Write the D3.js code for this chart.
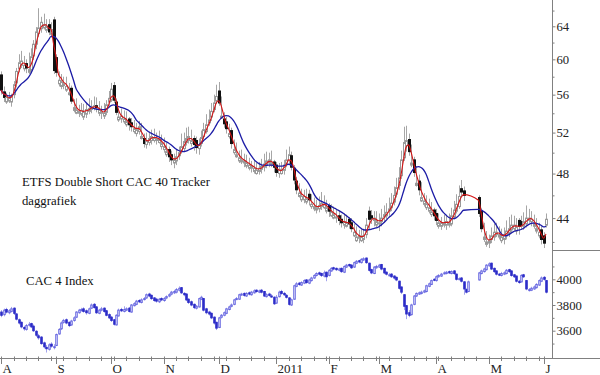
<!DOCTYPE html>
<html>
<head>
<meta charset="utf-8">
<script src="https://cdn.jsdelivr.net/npm/d3@7"></script>
<style>
  body { margin: 0; background: #fff; }
</style>
</head>
<body>
<svg id="chart" width="600" height="375"></svg>
<script>
// init data (daily candles, 2 Aug 2010 - 2 Jun 2011, null = no quote)
const etfOpen = [58.2, 56.3, 55.2, 55.3, 55.2, 56.0, 57.3, 58.9, 59.3, 58.9,
  59.5, 58.5, 58.8, 60.4, 61.8, 63.1, 63.7, 63.8, 63.5, 64.2,
  63.0, 64.8, 60.2, 57.2, 56.9, 57.0, 56.5, 56.0, 56.7, 54.3,
  54.0, 54.0, 53.9, 53.6, 53.9, 54.2, 54.4, 54.5, 54.8, 54.0,
  54.0, 53.7, 54.1, 55.2, 55.4, 57.0, 55.2, 53.3, 53.4, 53.1,
  52.8, 53.4, 53.0, 52.1, 51.9, 52.1, 51.4, 51.4, 50.8, 51.0,
  51.2, 51.2, 51.2, 51.0, 50.6, 50.3, 49.8, 50.3, 49.8, 49.0,
  49.2, 49.7, 50.2, 50.4, 51.0, 51.2, 50.9, 51.4, 51.2, 50.4,
  50.9, 51.6, 52.1, 53.0, 53.6, 54.4, 55.3, 56.4, 53.5, 53.4,
  53.1, 51.6, 52.2, 50.0, 49.6, 49.2, 49.1, 49.0, 48.7, 48.5,
  48.5, 48.2, 48.0, 48.2, 48.4, 48.6, 48.8, 49.0, 48.8, 49.1,
  48.8, 48.0, 48.0, 48.3, 48.9, 49.2, 49.7, 48.5, 47.3, 45.9,
  45.6, 45.6, 45.4, 46.1, 45.0, 44.8, 44.7, 44.8, 45.0, 44.9,
  44.6, 45.1, 44.2, 44.0, 44.0, 44.2, 43.9, 43.4, 43.3, 43.9,
  43.6, 42.5, 42.1, 42.3, 42.1, 42.2, 42.6, 44.6, 44.2, 43.8,
  43.4, 43.5, 43.7, 44.1, 44.2, 44.6, 44.9, 45.4, 46.1, 46.9,
  47.8, 49.5, 50.7, 51.3, 48.8, 49.3, 46.9, 47.3, 45.5, 45.2,
  44.9, 44.6, 44.3, 44.7, 44.4, 43.3, 43.3, 43.4, 43.4, 43.4,
  43.5, 44.1, 44.6, 45.0, 46.6, 46.4, null, null, null, null,
  null, 45.8, 44.6, 42.2, 41.8, 41.9, 42.2, 42.4, 42.6, 42.4,
  42.1, 42.2, 42.5, 42.7, 43.0, 43.1, 42.9, 43.8, 43.7, 43.3,
  43.5, 43.8, 43.7, 43.3, 42.9, 42.5, 43.0, 42.5, 43.4];
const etfHigh = [58.6, 56.9, 56.2, 56.3, 56.1, 57.5, 59.0, 60.6, 61.0, 60.4,
  60.0, 60.8, 61.3, 62.3, 63.9, 66.3, 65.2, 65.6, 64.9, 64.9,
  64.5, 65.2, 60.6, 58.6, 58.3, 58.0, 58.0, 57.3, 57.0, 55.5,
  55.6, 54.9, 55.1, 55.0, 55.1, 55.6, 55.4, 55.8, 55.7, 55.3,
  54.8, 55.1, 55.4, 56.4, 57.3, 57.4, 55.6, 54.4, 54.5, 54.3,
  54.2, 53.6, 53.5, 53.3, 53.0, 53.2, 53.0, 51.9, 52.0, 52.1,
  52.3, 52.4, 52.0, 52.2, 51.8, 51.5, 51.0, 50.6, 50.2, 49.9,
  50.3, 50.6, 51.9, 52.0, 52.5, 52.6, 52.3, 51.7, 51.6, 51.4,
  52.2, 53.0, 53.9, 54.4, 55.1, 56.0, 57.1, 57.4, 55.8, 54.1,
  53.6, 52.9, 52.5, 51.3, 51.0, 50.2, 50.3, 49.9, 49.8, 49.5,
  49.2, 49.3, 49.0, 49.1, 49.4, 49.9, 50.1, 50.0, 50.2, 49.3,
  49.1, 49.0, 49.1, 49.3, 50.3, 50.6, 50.1, 48.8, 47.7, 47.1,
  46.6, 46.5, 46.6, 46.5, 46.1, 45.8, 45.6, 45.9, 46.3, 46.0,
  45.6, 45.3, 45.2, 45.0, 44.8, 44.6, 44.3, 44.4, 44.3, 44.1,
  44.0, 43.5, 43.3, 43.0, 43.1, 43.1, 44.0, 45.0, 44.7, 44.6,
  44.6, 44.4, 44.8, 45.1, 45.3, 45.8, 46.2, 46.8, 47.6, 48.6,
  50.2, 52.6, 52.7, 51.9, 50.8, 49.6, 48.7, 47.9, 47.2, 46.2,
  46.0, 45.7, 45.4, 44.9, 44.8, 44.4, 44.1, 44.3, 44.2, 44.4,
  44.9, 45.5, 46.1, 46.9, 47.4, 46.8, null, null, null, null,
  null, 46.0, 44.9, 43.6, 42.9, 42.6, 43.2, 43.5, 43.6, 43.3,
  43.1, 43.2, 43.8, 44.1, 44.3, 44.2, 44.0, 44.0, 44.2, 44.5,
  45.1, 44.8, 44.6, 44.3, 44.0, 43.6, 43.3, 42.8, 44.4];
const etfLow = [56.0, 55.2, 55.0, 55.1, 54.7, 55.6, 56.8, 58.5, 59.0, 58.6,
  58.4, 58.3, 58.4, 59.9, 61.2, 62.7, 63.2, 63.6, 63.2, 62.9,
  62.6, 58.3, 58.0, 56.9, 56.6, 56.6, 56.3, 55.9, 55.0, 54.1,
  53.9, 53.6, 53.7, 53.3, 53.5, 53.9, 54.0, 54.3, 54.1, 53.7,
  53.4, 53.4, 53.8, 54.8, 55.2, 55.1, 53.8, 53.1, 53.0, 52.9,
  52.6, 52.2, 52.1, 51.9, 51.6, 51.8, 51.3, 50.5, 50.4, 50.7,
  50.8, 51.0, 50.8, 50.9, 50.3, 50.0, 49.6, 49.1, 48.8, 48.5,
  48.8, 49.3, 49.9, 50.1, 50.7, 50.9, 50.6, 50.2, 49.9, 49.8,
  50.6, 51.3, 51.9, 52.7, 53.2, 54.1, 55.0, 54.8, 53.4, 52.5,
  51.9, 51.4, 50.4, 49.8, 49.5, 49.0, 48.9, 48.6, 48.5, 48.3,
  48.1, 48.0, 47.9, 47.9, 48.0, 48.2, 48.5, 48.6, 48.6, 48.1,
  47.7, 47.6, 47.9, 47.9, 48.6, 48.9, 48.3, 47.0, 46.1, 45.8,
  45.4, 45.3, 45.2, 45.1, 44.8, 44.6, 44.4, 44.5, 44.7, 44.8,
  44.4, 44.1, 44.1, 43.9, 43.6, 43.4, 43.2, 43.1, 43.2, 43.1,
  42.8, 42.4, 42.0, 41.9, 42.0, 41.9, 42.3, 43.0, 43.5, 43.3,
  43.2, 42.9, 43.3, 43.6, 43.9, 44.2, 44.6, 45.1, 45.8, 46.5,
  47.5, 49.2, 50.1, 49.7, 48.6, 47.7, 46.8, 46.0, 45.4, 45.0,
  44.7, 44.4, 44.1, 43.8, 43.4, 43.1, 43.0, 43.2, 43.0, 43.2,
  43.3, 43.9, 44.4, 44.8, 45.9, 45.5, null, null, null, null,
  null, 44.1, 42.8, 42.0, 41.6, 41.5, 41.9, 42.1, 42.4, 42.2,
  41.9, 41.8, 42.2, 42.4, 42.7, 42.9, 42.6, 42.6, 43.0, 43.0,
  43.2, 43.6, 43.3, 43.1, 42.7, 42.3, 41.8, 41.5, 43.2];
const etfClose = [56.5, 55.7, 55.7, 55.6, 55.8, 57.1, 58.6, 59.6, 59.8, 59.3,
  59.0, 58.8, 60.3, 61.8, 63.3, 63.8, 64.5, 64.2, 63.9, 63.3,
  63.6, 58.7, 58.5, 57.6, 57.4, 57.2, 56.9, 56.2, 55.3, 54.6,
  54.3, 54.2, 54.3, 54.1, 54.4, 54.5, 54.7, 54.8, 54.6, 54.3,
  54.1, 54.0, 54.9, 55.6, 56.6, 55.4, 54.1, 53.6, 53.7, 53.4,
  53.1, 52.8, 52.6, 52.4, 52.3, 52.6, 51.6, 50.9, 51.2, 51.4,
  51.6, 51.5, 51.4, 51.3, 50.9, 50.6, 50.1, 49.6, 49.3, 49.3,
  49.6, 50.0, 50.6, 51.1, 51.4, 51.6, 51.2, 50.8, 50.5, 50.8,
  51.5, 52.3, 52.8, 53.3, 54.2, 55.1, 55.8, 55.1, 53.7, 52.9,
  52.4, 51.9, 50.9, 50.3, 49.8, 49.5, 49.3, 49.2, 49.0, 48.8,
  48.7, 48.5, 48.3, 48.5, 48.7, 48.9, 49.2, 49.3, 49.0, 48.6,
  48.1, 48.4, 48.3, 48.8, 49.3, 49.8, 48.6, 47.4, 46.5, 46.2,
  45.9, 45.9, 45.7, 45.6, 45.2, 45.0, 44.9, 45.1, 45.3, 45.2,
  44.9, 44.6, 44.5, 44.3, 44.1, 43.8, 43.6, 43.7, 43.6, 43.5,
  43.1, 42.8, 42.4, 42.5, 42.4, 42.5, 43.4, 43.9, 44.0, 44.0,
  43.7, 43.6, 44.0, 44.3, 44.5, 44.8, 45.3, 46.0, 46.7, 47.6,
  49.3, 51.0, 51.2, 50.1, 49.0, 48.1, 47.1, 46.5, 45.8, 45.5,
  45.2, 44.9, 44.5, 44.2, 43.8, 43.6, 43.6, 43.6, 43.7, 43.6,
  44.2, 44.7, 45.2, 45.9, 46.3, 46.0, null, null, null, null,
  null, 44.4, 43.1, 42.4, 42.0, 42.1, 42.5, 42.8, 42.8, 42.6,
  42.4, 42.6, 42.9, 43.1, 43.4, 43.4, 43.2, 43.3, 43.4, 43.7,
  44.0, 44.0, 43.9, 43.5, 43.1, 42.8, 42.2, 41.9, 43.9];

const cacOpen = [3745, 3725, 3765, 3740, 3750, 3775, 3730, 3685, 3665, 3625,
  3610, 3645, 3655, 3635, 3595, 3560, 3550, 3505, 3470, 3455,
  3495, 3470, 3485, 3575, 3615, 3665, 3685, 3665, 3645, 3680,
  3705, 3740, 3758, 3770, 3755, 3735, 3775, 3805, 3785, 3735,
  3760, 3775, 3755, 3725, 3705, 3685, 3645, 3715, 3765, 3750,
  3760, 3775, 3745, 3795, 3805, 3835, 3820, 3845, 3855, 3885,
  3875, 3855, 3845, 3825, 3850, 3835, 3855, 3870, 3885, 3895,
  3900, 3915, 3935, 3890, 3885, 3845, 3825, 3805, 3775, 3785,
  3845, 3850, 3770, 3745, 3735, 3705, 3665, 3625, 3705, 3720,
  3735, 3765, 3790, 3805, 3845, 3845, 3880, 3890, 3870, 3895,
  3880, 3895, 3915, 3900, 3915, 3905, 3865, 3885, 3870, 3860,
  3815, 3865, 3905, 3890, 3875, 3855, 3800, 3845, 3945, 3970,
  3955, 3970, 3995, 3970, 3990, 4010, 4030, 4050, 4045, 4025,
  4055, 4030, 4065, 4090, 4085, 4070, 4085, 4055, 4095, 4115,
  4110, 4095, 4125, 4145, 4130, 4150, 4165, 4125, 4075, 4045,
  4090, 4095, 4115, 4085, 4055, 4030, 4040, 4025, 4015, 3985,
  3940, 3880, 3795, 3740, 3725, 3805, 3870, 3885, 3890, 3900,
  3905, 3945, 3960, 4000, 3990, 4020, 4025, 4045, 4045, 4060,
  4045, 4065, 4040, 4000, 4010, 3980, 3920, 3905, null, null,
  null, 3995, 4045, 4060, 4075, 4105, 4125, 4085, 4065, 4040,
  4030, 4040, 4045, 4075, 4065, 4035, 4025, 3985, 3980, 4035,
  3990, 3915, 3915, 3925, 3935, 3955, 3985, 4015, 3990];
const cacHigh = [3760, 3772, 3778, 3768, 3785, 3782, 3738, 3695, 3672, 3638,
  3652, 3668, 3662, 3648, 3605, 3575, 3558, 3515, 3488, 3502,
  3510, 3495, 3578, 3620, 3672, 3692, 3695, 3672, 3685, 3712,
  3752, 3770, 3778, 3782, 3765, 3780, 3812, 3815, 3792, 3770,
  3785, 3782, 3762, 3735, 3715, 3692, 3728, 3772, 3778, 3790,
  3782, 3785, 3808, 3822, 3840, 3845, 3852, 3862, 3890, 3895,
  3882, 3862, 3855, 3855, 3860, 3862, 3875, 3892, 3910, 3918,
  3932, 3945, 3940, 3900, 3892, 3852, 3835, 3812, 3800, 3858,
  3872, 3855, 3778, 3755, 3742, 3712, 3670, 3708, 3730, 3750,
  3778, 3795, 3812, 3848, 3862, 3888, 3895, 3898, 3900, 3905,
  3910, 3922, 3922, 3920, 3925, 3910, 3892, 3895, 3885, 3868,
  3878, 3912, 3918, 3902, 3885, 3862, 3850, 3958, 3978, 3980,
  3985, 4000, 4002, 4005, 4020, 4040, 4055, 4060, 4052, 4068,
  4060, 4080, 4095, 4098, 4092, 4090, 4092, 4108, 4120, 4122,
  4118, 4138, 4150, 4152, 4165, 4172, 4170, 4130, 4082, 4102,
  4112, 4120, 4120, 4090, 4062, 4048, 4048, 4032, 4022, 3990,
  3945, 3885, 3800, 3760, 3810, 3878, 3898, 3905, 3912, 3920,
  3958, 3975, 3998, 4008, 4030, 4040, 4050, 4062, 4065, 4068,
  4070, 4072, 4045, 4015, 4018, 3985, 3930, 3990, null, null,
  null, 4058, 4075, 4090, 4118, 4132, 4130, 4092, 4070, 4050,
  4058, 4062, 4080, 4082, 4070, 4042, 4030, 3995, 4040, 4042,
  3995, 3932, 3942, 3952, 3970, 4000, 4022, 4025, 3995];
const cacLow = [3705, 3712, 3735, 3728, 3742, 3722, 3680, 3648, 3618, 3600,
  3600, 3632, 3620, 3590, 3552, 3530, 3490, 3462, 3430, 3445,
  3468, 3455, 3480, 3568, 3605, 3655, 3650, 3628, 3638, 3670,
  3698, 3732, 3748, 3740, 3725, 3728, 3768, 3772, 3730, 3728,
  3750, 3740, 3712, 3690, 3668, 3640, 3640, 3710, 3745, 3742,
  3752, 3742, 3740, 3788, 3798, 3815, 3812, 3835, 3848, 3860,
  3840, 3825, 3818, 3815, 3830, 3825, 3845, 3860, 3875, 3885,
  3890, 3905, 3885, 3868, 3830, 3808, 3790, 3768, 3765, 3780,
  3838, 3750, 3728, 3718, 3690, 3648, 3605, 3620, 3695, 3712,
  3728, 3758, 3782, 3798, 3838, 3840, 3872, 3865, 3862, 3875,
  3872, 3888, 3895, 3892, 3890, 3862, 3858, 3865, 3855, 3800,
  3808, 3858, 3880, 3870, 3850, 3795, 3792, 3840, 3938, 3950,
  3948, 3962, 3965, 3962, 3982, 4002, 4022, 4030, 4018, 4015,
  3985, 4022, 4058, 4070, 4065, 4062, 4050, 4048, 4088, 4095,
  4080, 4088, 4118, 4125, 4122, 4142, 4120, 4060, 4040, 4040,
  4082, 4088, 4070, 4040, 4030, 4022, 4010, 3998, 3985, 3920,
  3885, 3760, 3690, 3705, 3718, 3798, 3862, 3878, 3882, 3892,
  3898, 3938, 3955, 3985, 3982, 4012, 4018, 4038, 4038, 4042,
  4038, 4035, 3990, 3992, 3975, 3880, 3890, 3900, null, null,
  null, 3990, 4038, 4052, 4068, 4098, 4072, 4050, 4030, 4025,
  4022, 4032, 4038, 4050, 4020, 4010, 3975, 3965, 3975, 4010,
  3915, 3905, 3908, 3918, 3928, 3948, 3978, 3990, 3890];
const cacClose = [3720, 3760, 3745, 3755, 3770, 3735, 3690, 3660, 3630, 3615,
  3640, 3650, 3630, 3600, 3565, 3545, 3500, 3475, 3460, 3490,
  3480, 3476, 3570, 3610, 3660, 3680, 3660, 3640, 3675, 3700,
  3745, 3760, 3765, 3750, 3740, 3770, 3800, 3780, 3740, 3760,
  3770, 3750, 3720, 3700, 3680, 3650, 3720, 3760, 3755, 3765,
  3770, 3750, 3800, 3810, 3830, 3825, 3840, 3850, 3880, 3870,
  3850, 3835, 3830, 3845, 3840, 3850, 3865, 3880, 3900, 3905,
  3920, 3930, 3895, 3880, 3840, 3820, 3800, 3780, 3790, 3850,
  3860, 3760, 3740, 3730, 3700, 3660, 3620, 3700, 3720, 3740,
  3770, 3785, 3800, 3840, 3850, 3880, 3885, 3875, 3890, 3885,
  3900, 3910, 3905, 3910, 3900, 3870, 3880, 3875, 3865, 3810,
  3860, 3900, 3890, 3880, 3860, 3805, 3840, 3950, 3965, 3960,
  3975, 3990, 3975, 3995, 4010, 4030, 4045, 4040, 4030, 4050,
  4020, 4070, 4085, 4080, 4075, 4080, 4060, 4100, 4110, 4105,
  4090, 4130, 4140, 4135, 4155, 4160, 4130, 4070, 4050, 4095,
  4100, 4110, 4080, 4050, 4040, 4035, 4020, 4010, 3995, 3930,
  3900, 3790, 3730, 3720, 3800, 3870, 3890, 3895, 3900, 3910,
  3950, 3965, 3990, 3995, 4020, 4030, 4040, 4050, 4055, 4050,
  4060, 4045, 4000, 4005, 3985, 3925, 3900, 3980, null, null,
  null, 4050, 4065, 4080, 4110, 4120, 4080, 4060, 4040, 4035,
  4045, 4050, 4070, 4060, 4030, 4020, 3985, 3975, 4030, 4020,
  3925, 3920, 3930, 3940, 3960, 3990, 4010, 4000, 3900];

const monthLabels = ["A", "S", "O", "N", "D", "2011", "F", "M", "A", "M", "J"],
    topTicks = [44, 48, 52, 56, 60, 64],
    topMinor = [42, 46, 50, 54, 58, 62, 66],
    botTicks = [3600, 3800, 4000],
    botMinor = [3500, 3700, 3900, 4100];

// init svg
const svg = d3.select("#chart"),
    width = +svg.attr("width"),
    height = +svg.attr("height"),
    axisX = 552.5,
    baseY = 358.5,
    serif = "Liberation Serif, Times New Roman, serif",
    fontSize = 12.7;

// trading days (weekdays)
const days = d3.timeDay.range(new Date(2010, 7, 2), new Date(2011, 5, 3))
    .filter(function(d) { return d.getDay() !== 0 && d.getDay() !== 6; });

const x = d3.scaleLinear().domain([0, 220]).range([1, 551]);
const yTop = d3.scaleLog().domain([44, 64]).range([218.1, 26.3]);
const yBot = d3.scaleLinear().domain([3600, 4000]).range([330.7, 279.3]);

// candles
drawCandles("etf", yTop, etfOpen, etfHigh, etfLow, etfClose,
    {wick: "#a6a6a6", up: "#999", down: "#111", w: 2});
drawCandles("cac", yBot, cacOpen, cacHigh, cacLow, cacClose,
    {wick: "#a4a4ec", up: "#6464e0", down: "#2c2cc8", w: 1.5});

// moving averages
const line = d3.line()
    .x(function(d) { return x(d.i); })
    .y(function(d) { return yTop(d.v); })
    .curve(d3.curveMonotoneX);

svg.append("path")
    .attr("d", line(movingAvg(etfClose, 10)))
    .attr("fill", "none")
    .attr("stroke", "#1c1ca6")
    .attr("stroke-width", 1.3);

svg.append("path")
    .attr("d", line(movingAvg(etfClose, 3)))
    .attr("fill", "none")
    .attr("stroke", "#d41414")
    .attr("stroke-width", 1.1);

// right axes
svg.append("g")
    .attr("transform", "translate(" + axisX + ",0)")
    .call(d3.axisRight(yTop).tickValues(topTicks).tickSize(3).tickPadding(1)
      .tickFormat(d3.format("d")));
svg.append("g")
    .attr("transform", "translate(" + axisX + ",0)")
    .call(d3.axisRight(yTop).tickValues(topMinor).tickSize(2).tickFormat(""));
svg.append("g")
    .attr("transform", "translate(" + axisX + ",0)")
    .call(d3.axisRight(yBot).tickValues(botTicks).tickSize(3).tickPadding(1)
      .tickFormat(d3.format("d")));
svg.append("g")
    .attr("transform", "translate(" + axisX + ",0)")
    .call(d3.axisRight(yBot).tickValues(botMinor).tickSize(2).tickFormat(""));

svg.selectAll(".domain").remove();
svg.selectAll(".tick line").attr("stroke", "#808080");
svg.selectAll(".tick text")
    .attr("font-size", fontSize)
    .attr("font-family", serif)
    .attr("fill", "#222");

svg.append("line")
    .attr("x1", axisX).attr("x2", axisX)
    .attr("y1", 0).attr("y2", baseY)
    .attr("stroke", "#808080");
svg.append("line")
    .attr("x1", axisX).attr("x2", width)
    .attr("y1", 250.5).attr("y2", 250.5)
    .attr("stroke", "#808080");

// bottom time axis
svg.append("line")
    .attr("x1", 0).attr("x2", width)
    .attr("y1", baseY).attr("y2", baseY)
    .attr("stroke", "#808080");

const monthStarts = [],
    mondays = [];
days.forEach(function(d, i) {
  if (i === 0 || d.getMonth() !== days[i - 1].getMonth()) monthStarts.push(i);
  else if (d.getDay() === 1) mondays.push(i);
});

svg.append("g").selectAll("line")
    .data(mondays)
  .enter().append("line")
    .attr("x1", function(d) { return Math.round(x(d)) + 0.5; })
    .attr("x2", function(d) { return Math.round(x(d)) + 0.5; })
    .attr("y1", baseY - 2).attr("y2", baseY + 2.5)
    .attr("stroke", "#808080");

const month = svg.append("g").selectAll("g")
    .data(monthStarts)
  .enter().append("g")
    .attr("transform", function(d) { return "translate(" + (Math.round(x(d)) + 0.5) + ",0)"; });

month.append("line")
    .attr("y1", baseY - 2).attr("y2", baseY + 5.5)
    .attr("stroke", "#808080");

month.append("text")
    .attr("x", 1)
    .attr("y", 373)
    .attr("font-size", 13)
    .attr("font-family", serif)
    .attr("fill", "#222")
    .text(function(d, i) { return monthLabels[i]; });

// titles
addLabel(22, 186, "ETFS Double Short CAC 40 Tracker");
addLabel(22, 205, "daggrafiek");
addLabel(26, 285, "CAC 4 Index");

// utils
function addLabel(px, py, str) {
  svg.append("text")
      .attr("x", px).attr("y", py)
      .attr("font-size", fontSize)
      .attr("font-family", serif)
      .attr("fill", "#111")
      .text(str);
}

function drawCandles(name, y, open, high, low, close, col) {
  const rows = [];
  close.forEach(function(c, i) {
    if (c == null) return;
    rows.push({i: i, o: open[i], h: high[i], l: low[i], c: c});
  });

  const g = svg.append("g").attr("class", name)
    .selectAll("g")
      .data(rows)
    .enter().append("g")
      .attr("transform", function(d) { return "translate(" + (Math.round(x(d.i)) + 0.5) + ",0)"; });

  g.append("line")
      .attr("y1", function(d) { return y(d.h); })
      .attr("y2", function(d) { return y(d.l); })
      .attr("stroke", col.wick);

  g.append("rect")
      .attr("x", -col.w / 2)
      .attr("width", col.w)
      .attr("y", function(d) { return y(Math.max(d.o, d.c)); })
      .attr("height", function(d) { return Math.max(1, Math.abs(y(d.o) - y(d.c))); })
      .attr("fill", function(d) { return d.c < d.o ? col.down : "#fff"; })
      .attr("stroke", function(d) { return d.c < d.o ? col.down : col.up; })
      .attr("stroke-width", 1);
}

function movingAvg(values, n) {
  const pts = [];
  values.forEach(function(v, i) {
    if (v != null) pts.push({i: i, v: v});
  });
  return pts.map(function(p, k) {
    return {i: p.i, v: d3.mean(pts.slice(Math.max(0, k - n + 1), k + 1), function(d) { return d.v; })};
  });
}
</script>
</body>
</html>
